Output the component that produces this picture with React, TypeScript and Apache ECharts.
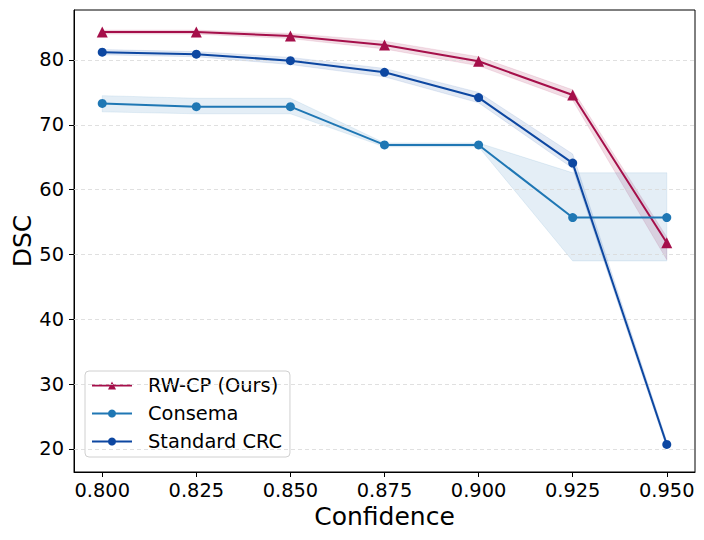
import React, { useEffect, useRef } from "react";
import * as echarts from "echarts";

const confidence = [0.8, 0.825, 0.85, 0.875, 0.9, 0.925, 0.95];

const rwcp = [84.3, 84.3, 83.7, 82.3, 79.8, 74.6, 51.8];
const rwcpLow = [84.0, 84.0, 83.3, 81.7, 79.1, 73.8, 49.2];
const rwcpHigh = [84.6, 84.6, 84.1, 82.9, 80.5, 75.4, 52.7];

const consema = [73.3, 72.8, 72.8, 66.9, 66.9, 55.7, 55.7];
const consemaLow = [72.0, 71.7, 71.7, 66.6, 66.6, 49.0, 49.0];
const consemaHigh = [74.5, 74.1, 74.1, 67.2, 67.2, 62.6, 62.6];

const crc = [81.2, 80.9, 79.9, 78.1, 74.2, 64.1, 20.7];
const crcLow = [80.8, 80.5, 79.3, 77.4, 73.4, 63.3, 20.2];
const crcHigh = [81.6, 81.3, 80.4, 78.7, 75.0, 65.5, 21.2];

const xTicks = [0.8, 0.825, 0.85, 0.875, 0.9, 0.925, 0.95];
const yTicks = [20, 30, 40, 50, 60, 70, 80];

const FONT = "DejaVu Sans";

const C_RW = "#a50f4a";
const C_CON = "#1f77b4";
const C_CRC = "#0d47a1";

function pairs(ys: number[]) {
  return confidence.map((x, i) => [x, ys[i]]);
}

function bandSeries(low: number[], high: number[], fill: string, stroke: string) {
  return {
    type: "custom",
    data: [[confidence[0], low[0]]],
    silent: true,
    z: 1,
    renderItem: (_params: any, api: any) => {
      const top = confidence.map((x, i) => api.coord([x, high[i]]));
      const bot = confidence.map((x, i) => api.coord([x, low[i]])).reverse();
      return {
        type: "polygon",
        shape: { points: top.concat(bot) },
        style: { fill, stroke, lineWidth: 1 },
      };
    },
  };
}

export default function App() {
  const ref = useRef<HTMLDivElement>(null);
  useEffect(() => {
    if (!ref.current) return;
    const chart = echarts.init(ref.current, null, { renderer: "svg" });
    chart.setOption({
      animation: false,
      backgroundColor: "#fff",
      textStyle: { fontFamily: FONT },
      grid: {
        left: 74,
        right: 9,
        top: 10,
        bottom: 68,
        containLabel: false,
        outerBoundsMode: "none",
        show: true,
        borderColor: "#000",
        borderWidth: 1,
        backgroundColor: "transparent",
      },
      legend: {
        data: ["RW-CP (Ours)", "Consema", "Standard CRC"],
        orient: "vertical",
        left: 85,
        top: 371,
        itemWidth: 40,
        itemHeight: 10,
        itemGap: 9,
        padding: [5, 8, 6, 6],
        backgroundColor: "rgba(255,255,255,0.8)",
        borderColor: "#d0d0d0",
        borderWidth: 1,
        borderRadius: 4,
        textStyle: { fontFamily: FONT, fontSize: 19.4, color: "#000", padding: [0, 0, 0, 11] },
      },
      xAxis: {
        type: "value",
        min: 0.7925,
        max: 0.9575,
        name: "Confidence",
        nameLocation: "middle",
        nameGap: 32,
        nameMoveOverlap: false,
        nameTextStyle: { fontFamily: FONT, fontSize: 25, color: "#000" },
        axisLine: { show: true, onZero: false, lineStyle: { color: "#000", width: 1 } },
        axisTick: { show: true, length: 5, lineStyle: { color: "#000" }, customValues: xTicks },
        axisLabel: {
          customValues: xTicks,
          formatter: (v: number) => v.toFixed(3),
          fontFamily: FONT,
          fontSize: 19.4,
          color: "#000",
          margin: 9,
        },
        splitLine: { show: false },
      },
      yAxis: {
        type: "value",
        min: 16.45,
        max: 87.71,
        name: "DSC",
        nameLocation: "middle",
        nameGap: 39,
        nameMoveOverlap: false,
        nameTextStyle: { fontFamily: FONT, fontSize: 25, color: "#000" },
        axisLine: { show: true, onZero: false, lineStyle: { color: "#000", width: 1 } },
        axisTick: { show: true, length: 5, lineStyle: { color: "#000" }, customValues: yTicks },
        axisLabel: {
          customValues: yTicks,
          fontFamily: FONT,
          fontSize: 19.4,
          color: "#000",
          margin: 10,
        },
        splitLine: { show: false },
      },
      series: [
        {
          name: "gridlines",
          type: "line",
          data: [],
          silent: true,
          z: 0,
          markLine: {
            silent: true,
            symbol: "none",
            label: { show: false },
            lineStyle: { type: [4, 3], color: "#d8d8d8", width: 0.8 },
            data: yTicks.map((y) => ({ yAxis: y })),
          },
        },
        bandSeries(rwcpLow, rwcpHigh, "rgba(165,15,74,0.14)", "rgba(165,15,74,0.10)"),
        bandSeries(consemaLow, consemaHigh, "rgba(31,119,180,0.12)", "rgba(31,119,180,0.10)"),
        bandSeries(crcLow, crcHigh, "rgba(13,71,161,0.12)", "rgba(13,71,161,0.10)"),
        {
          name: "RW-CP (Ours)",
          type: "line",
          data: pairs(rwcp),
          symbol: "triangle",
          symbolSize: 11,
          lineStyle: { color: C_RW, width: 2 },
          itemStyle: { color: C_RW },
          z: 5,
        },
        {
          name: "Consema",
          type: "line",
          data: pairs(consema),
          symbol: "circle",
          symbolSize: 9,
          lineStyle: { color: C_CON, width: 2 },
          itemStyle: { color: C_CON },
          z: 5,
        },
        {
          name: "Standard CRC",
          type: "line",
          data: pairs(crc),
          symbol: "circle",
          symbolSize: 9,
          lineStyle: { color: C_CRC, width: 2 },
          itemStyle: { color: C_CRC },
          z: 5,
        },
      ],
    });
    return () => chart.dispose();
  }, []);
  return (
    <div
      ref={ref}
      style={{ position: "fixed", left: 0, top: 0, width: 704, height: 540, background: "#fff" }}
    />
  );
}
